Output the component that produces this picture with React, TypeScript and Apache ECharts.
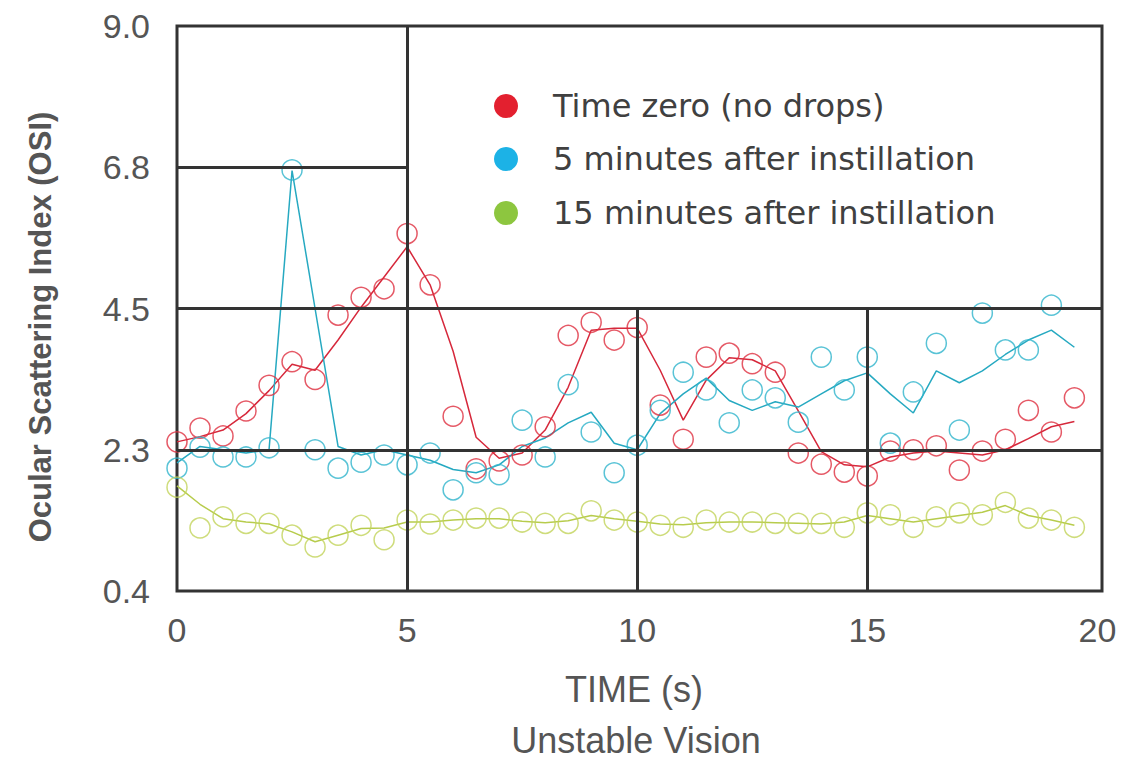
import React, { useEffect, useRef } from "react";
import * as echarts from "echarts";

// ---- data ----
const times = [0, 0.5, 1, 1.5, 2, 2.5, 3, 3.5, 4, 4.5, 5, 5.5, 6, 6.5, 7, 7.5, 8, 8.5, 9, 9.5,
  10, 10.5, 11, 11.5, 12, 12.5, 13, 13.5, 14, 14.5, 15, 15.5, 16, 16.5, 17, 17.5, 18, 18.5, 19, 19.5];

const redPoints = [2.67, 2.88, 2.76, 3.14, 3.53, 3.89, 3.62, 4.6, 4.87, 5.0, 5.84, 5.06, 3.06, 2.26, 2.38, 2.47, 2.9, 4.29, 4.49, 4.22,
  4.41, 3.23, 2.71, 3.96, 4.02, 3.86, 3.73, 2.5, 2.33, 2.21, 2.15, 2.53, 2.55, 2.61, 2.24, 2.53, 2.71, 3.15, 2.82, 3.34];
const redLine = [2.67, 2.75, 2.85, 3.1, 3.45, 3.85, 3.76, 4.22, 4.72, 5.18, 5.64, 5.06, 4.05, 2.74, 2.42, 2.5, 2.85, 3.5, 4.37, 4.4,
  4.4, 3.76, 3.0, 3.61, 3.95, 3.92, 3.75, 3.14, 2.52, 2.32, 2.29, 2.44, 2.5, 2.53, 2.5, 2.47, 2.55, 2.72, 2.9, 2.98];

const bluePoints = [2.27, 2.59, 2.44, 2.44, 2.58, 6.81, 2.55, 2.27, 2.36, 2.47, 2.32, 2.5, 1.94, 2.2, 2.17, 3.0, 2.44, 3.54, 2.82, 2.2,
  2.62, 3.15, 3.73, 3.46, 2.96, 3.46, 3.34, 2.97, 3.96, 3.46, 3.96, 2.65, 3.43, 4.17, 2.85, 4.63, 4.07, 4.07, 4.75];
const blueLine = [2.35, 2.6, 2.55, 2.5, 2.55, 6.8, 4.7, 2.6, 2.47, 2.55, 2.47, 2.39, 2.25, 2.2, 2.32, 2.6, 2.73, 2.96, 3.12, 2.65,
  2.55, 3.1, 3.4, 3.64, 3.3, 3.15, 3.28, 3.2, 3.4, 3.6, 3.72, 3.4, 3.11, 3.75, 3.57, 3.75, 4.0, 4.22, 4.37, 4.11];

const greenPoints = [1.98, 1.36, 1.53, 1.43, 1.43, 1.25, 1.07, 1.25, 1.4, 1.18, 1.48, 1.42, 1.48, 1.51, 1.51, 1.45, 1.43, 1.43, 1.62, 1.48,
  1.45, 1.4, 1.37, 1.48, 1.45, 1.45, 1.43, 1.43, 1.43, 1.37, 1.59, 1.56, 1.37, 1.53, 1.59, 1.56, 1.75, 1.51, 1.48, 1.37];
const greenLine = [2.0, 1.72, 1.5, 1.45, 1.42, 1.3, 1.15, 1.25, 1.35, 1.36, 1.45, 1.45, 1.48, 1.5, 1.5, 1.46, 1.44, 1.47, 1.55, 1.5,
  1.46, 1.42, 1.41, 1.44, 1.45, 1.45, 1.44, 1.43, 1.42, 1.45, 1.55, 1.5, 1.45, 1.5, 1.55, 1.6, 1.7, 1.55, 1.48, 1.4];

const seriesNames = ["Time zero (no drops)", "5 minutes after instillation", "15 minutes after instillation"];

const xTickValues = [0, 5, 10, 15, 20];
const yTickValues = [0.4, 2.55, 4.7, 6.85, 9.0];
const yTickLabels = ["0.4", "2.3", "4.5", "6.8", "9.0"];

// grid segments of the background (data coordinates)
const gridSegments = [
  [[5, 0.4], [5, 9.0]],
  [[0, 6.85], [5, 6.85]],
  [[0, 4.7], [20.1, 4.7]],
  [[0, 2.55], [20.1, 2.55]],
  [[10, 0.4], [10, 4.7]],
  [[15, 0.4], [15, 4.7]],
];

const X_MAX = 20.1;

const pair = (ys: number[]) => ys.map((v, i) => [times[i], v]);

const legendColors = ["#e3202f", "#1cb2e6", "#8dc63f"];
const pointColors = ["#df3040", "#2fb4cc", "#c2d35a"];
const lineColors = ["#d6283b", "#26a9c1", "#b7cc4c"];

export default function App() {
  const ref = useRef<HTMLDivElement>(null);
  useEffect(() => {
    if (!ref.current) return;
    const chart = echarts.init(ref.current, undefined, { renderer: "svg" });
    const textFont = "'Liberation Sans', Arial, sans-serif";

    const pointSeries = [redPoints, bluePoints, greenPoints].map((p, i) => ({
      type: "scatter",
      name: seriesNames[i],
      data: pair(p),
      symbol: "circle",
      symbolSize: 20,
      z: 4,
      itemStyle: { color: "rgba(255,255,255,0)", borderColor: pointColors[i], borderWidth: 1.5 },
    }));
    const lineSeries = [redLine, blueLine, greenLine].map((p, i) => ({
      type: "line",
      name: seriesNames[i] + " fit",
      data: pair(p),
      symbol: "none",
      z: 3,
      lineStyle: { color: lineColors[i], width: 1.5 },
    }));

    const legendRowsY = [106, 159, 213];
    const legendGraphics: any[] = [];
    seriesNames.forEach((n, i) => {
      legendGraphics.push({
        type: "circle",
        shape: { cx: 506, cy: legendRowsY[i], r: 12 },
        style: { fill: legendColors[i] },
      });
      legendGraphics.push({
        type: "text",
        x: 553,
        y: legendRowsY[i],
        style: {
          text: n,
          font: "32px 'DejaVu Sans', sans-serif",
          fill: "#404040",
          textVerticalAlign: "middle",
          textAlign: "left",
        },
      });
    });

    chart.setOption({
      animation: false,
      backgroundColor: "#ffffff",
      grid: {
        left: 177,
        top: 26,
        right: 20,
        bottom: 171,
        show: true,
        borderColor: "#333333",
        borderWidth: 3,
        backgroundColor: "transparent",
      },
      xAxis: {
        type: "value",
        min: 0,
        max: X_MAX,
        axisLine: { show: false },
        axisTick: { show: false },
        splitLine: { show: false },
        axisLabel: {
          customValues: xTickValues,
          fontSize: 34,
          fontFamily: textFont,
          color: "#555555",
          margin: 22,
        },
      },
      yAxis: {
        type: "value",
        min: 0.4,
        max: 9.0,
        axisLine: { show: false },
        axisTick: { show: false },
        splitLine: { show: false },
        axisLabel: {
          customValues: yTickValues,
          formatter: (v: number) => {
            let best = 0;
            yTickValues.forEach((t, i) => {
              if (Math.abs(t - v) < Math.abs(yTickValues[best] - v)) best = i;
            });
            return yTickLabels[best];
          },
          fontSize: 34,
          fontFamily: textFont,
          color: "#555555",
          margin: 27,
        },
      },
      graphic: [
        ...legendGraphics,
        {
          type: "text",
          x: 40,
          y: 327,
          rotation: Math.PI / 2,
          style: {
            text: "Ocular Scattering Index (OSI)",
            font: "bold 31px 'Liberation Sans', Arial, sans-serif",
            fill: "#555555",
            textAlign: "center",
            textVerticalAlign: "middle",
          },
        },
        {
          type: "text",
          x: 634,
          y: 689,
          style: {
            text: "TIME (s)",
            font: "36px 'Liberation Sans', Arial, sans-serif",
            fill: "#555555",
            textAlign: "center",
            textVerticalAlign: "middle",
          },
        },
        {
          type: "text",
          x: 636,
          y: 740,
          style: {
            text: "Unstable Vision",
            font: "36px 'Liberation Sans', Arial, sans-serif",
            fill: "#555555",
            textAlign: "center",
            textVerticalAlign: "middle",
          },
        },
      ],
      series: [
        {
          type: "line",
          name: "grid",
          data: [],
          silent: true,
          z: 2,
          markLine: {
            silent: true,
            symbol: ["none", "none"],
            label: { show: false },
            lineStyle: { color: "#333333", width: 3, type: "solid" },
            emphasis: { disabled: true },
            data: gridSegments.map((s) => [{ coord: s[0] }, { coord: s[1] }]),
          },
        },
        ...lineSeries,
        ...pointSeries,
      ],
    });
    return () => chart.dispose();
  }, []);
  return (
    <div
      ref={ref}
      style={{ position: "fixed", left: 0, top: 0, width: 1122, height: 762, background: "#fff" }}
    />
  );
}
